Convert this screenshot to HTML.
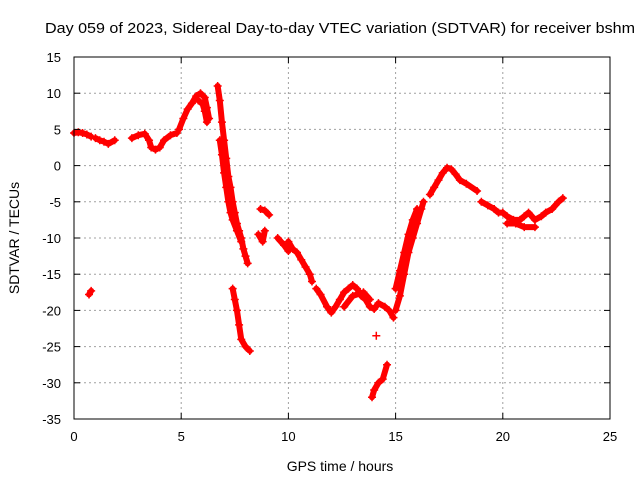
<!DOCTYPE html>
<html><head><meta charset="utf-8"><style>
html,body{margin:0;padding:0;background:#fff;}
svg text{font-family:"Liberation Sans",sans-serif;font-size:13px;fill:#000;}
</style></head><body>
<svg id="chart" width="640" height="480" xmlns="http://www.w3.org/2000/svg">
<rect width="640" height="480" fill="#fff"/>
<g id="grid"></g>
<g id="marks"></g>
<rect x="74" y="57" width="536" height="362" fill="none" stroke="#000" stroke-width="1"/>
<g id="ticks"></g>
<text x="340" y="33" text-anchor="middle" textLength="590" lengthAdjust="spacingAndGlyphs" style="font-size:15px">Day 059 of 2023, Sidereal Day-to-day VTEC variation (SDTVAR) for receiver bshm</text>
<text x="340" y="471" text-anchor="middle" style="font-size:14px">GPS time / hours</text>
<text transform="translate(19,238) rotate(-90)" text-anchor="middle" style="font-size:14px">SDTVAR / TECUs</text>
</svg>
<script>
const xTicks=[0,5,10,15,20,25];
const yTicks=[15,10,5,0,-5,-10,-15,-20,-25,-30,-35];
const seg1=[[0,4.5],[0.2,4.6],[0.4,4.5],[0.6,4.3],[0.8,4.0]];
const seg2=[[0.7,-17.8],[0.8,-17.3]];
const seg3=[[1.0,3.8],[1.2,3.5],[1.4,3.3],[1.6,3.0],[1.9,3.5]];
const seg4=[[2.7,3.8],[3.0,4.2],[3.3,4.4],[3.5,3.5],[3.6,2.5],[3.8,2.2],[4.0,2.5],[4.2,3.5],[4.5,4.2],[4.8,4.5]];
const seg5=[[4.9,5.0],[5.1,6.5],[5.3,7.8],[5.5,8.6],[5.7,9.6],[5.9,10.0],[6.1,9.4],[6.2,8.0],[6.3,6.5]];
const seg6=[[5.8,9.0],[6.0,8.5],[6.1,7.5],[6.2,6.0]];
const seg7=[[6.7,11],[6.8,9],[6.9,6],[7.0,3.5],[7.1,1],[7.2,-1.5],[7.3,-3],[7.4,-5],[7.5,-6.5],[7.6,-8],[7.7,-9],[7.8,-10],[7.9,-11.5],[8.0,-12.5],[8.1,-13.5]];
const seg8=[[6.8,3.5],[6.9,1.5],[7.0,-1],[7.1,-3],[7.2,-5],[7.3,-6.5],[7.4,-7.5],[7.6,-9],[7.8,-10.5]];
const seg9=[[7.4,-17],[7.5,-18.5],[7.6,-20],[7.7,-22],[7.8,-24],[8.0,-25],[8.2,-25.6]];
const seg10=[[8.7,-6],[8.9,-6.2],[9.1,-6.8]];
const seg11=[[8.6,-9.5],[8.8,-10.5],[8.9,-9]];
const seg12=[[9.5,-10],[9.8,-11],[10.0,-11.8]];
const seg13=[[10.0,-10.5],[10.2,-11.5],[10.4,-12],[10.6,-13],[10.8,-14],[11.0,-15],[11.1,-16]];
const seg14=[[11.3,-17],[11.5,-17.8],[11.8,-19.5],[12.0,-20.3],[12.2,-19.5],[12.4,-18.5],[12.6,-17.5],[12.8,-17],[13.0,-16.5],[13.2,-17],[13.4,-18],[13.6,-18.5],[13.8,-19.5],[14.0,-19.8],[14.2,-19],[14.5,-19.5],[14.7,-20],[14.9,-21]];
const seg15=[[12.6,-19.5],[13.0,-18],[13.5,-17.5],[13.8,-18.5]];
const seg16=[[14.1,-23.5]];
const seg17=[[13.9,-32],[14.0,-31],[14.2,-30],[14.4,-29.5],[14.6,-27.5]];
const seg18=[[15.0,-20],[15.2,-18],[15.4,-15],[15.6,-12],[15.8,-10],[16.0,-8],[16.2,-6],[16.3,-5]];
const seg19=[[15.0,-17],[15.2,-14.5],[15.4,-12],[15.6,-9.5],[15.8,-7.5],[16.0,-6]];
const seg20=[[16.6,-4],[16.8,-3],[17.0,-2],[17.2,-1],[17.4,-0.3],[17.6,-0.5],[17.8,-1.2],[18.0,-2],[18.3,-2.5],[18.8,-3.5]];
const seg21=[[19.0,-5],[19.3,-5.5],[19.6,-6],[19.8,-6.5],[20.0,-6.5],[20.2,-7],[20.5,-7.5],[20.8,-7.5],[21.0,-7],[21.2,-6.5],[21.5,-7.5],[21.8,-7],[22.0,-6.5],[22.3,-6],[22.6,-5],[22.8,-4.5]];
const seg22=[[20.2,-8],[20.6,-8],[21.0,-8.5],[21.5,-8.5]];
const segments=[seg1,seg2,seg3,seg4,seg5,seg6,seg7,seg8,seg9,seg10,seg11,seg12,seg13,seg14,seg15,seg16,seg17,seg18,seg19,seg20,seg21,seg22];

const X0=74,X1=610,Y0=419,Y1=57;
const sx=v=>X0+(v-0)/(25-0)*(X1-X0);
const sy=v=>Y0-(v-(-35))/(15-(-35))*(Y0-Y1);
const NS="http://www.w3.org/2000/svg";
const grid=document.getElementById('grid'),ticks=document.getElementById('ticks'),marks=document.getElementById('marks');
function mk(tag,attrs,parent){const e=document.createElementNS(NS,tag);for(const k in attrs)e.setAttribute(k,attrs[k]);parent.appendChild(e);return e;}
xTicks.forEach(t=>{
  const x=sx(t);
  if(t>0&&t<25){const g=mk('line',{x1:x,x2:x,y1:Y0,y2:Y1,stroke:'#a0a0a0','stroke-dasharray':'2,3'},grid);
  
  }
  mk('line',{x1:x,x2:x,y1:Y0,y2:Y0-6,stroke:'#000'},ticks);
  mk('line',{x1:x,x2:x,y1:Y1,y2:Y1+6,stroke:'#000'},ticks);
  const l=mk('text',{x:x,y:Y0+22,'text-anchor':'middle'},ticks);l.textContent=t;
  
  
});
yTicks.forEach(t=>{
  const y=sy(t);
  if(t>-35&&t<15){const g=mk('line',{x1:X0,x2:X1,y1:y,y2:y,stroke:'#a0a0a0','stroke-dasharray':'2,3'},grid);
  
  }
  mk('line',{x1:X0,x2:X0+6,y1:y,y2:y,stroke:'#000'},ticks);
  mk('line',{x1:X1,x2:X1-6,y1:y,y2:y,stroke:'#000'},ticks);
  const l=mk('text',{x:X0-13,y:y+5,'text-anchor':'end'},ticks);l.textContent=t;
  
  
});
segments.forEach((seg,i)=>{
  if(seg.length>1){
    const p=mk('polyline',{points:seg.map(d=>sx(d[0])+','+sy(d[1])).join(' '),fill:'none',stroke:'#ff0000','stroke-width':6,'stroke-linejoin':'round','stroke-linecap':'round'},marks);
    
    
  }
  seg.forEach(d=>{
    const x=sx(d[0]),y=sy(d[1]);
    const m=mk('path',{d:`M${x-4},${y}H${x+4}M${x},${y-4}V${y+4}`,stroke:'#ff0000','stroke-width':1.5},marks);
    
    
  });
});
</script>
</body></html>
